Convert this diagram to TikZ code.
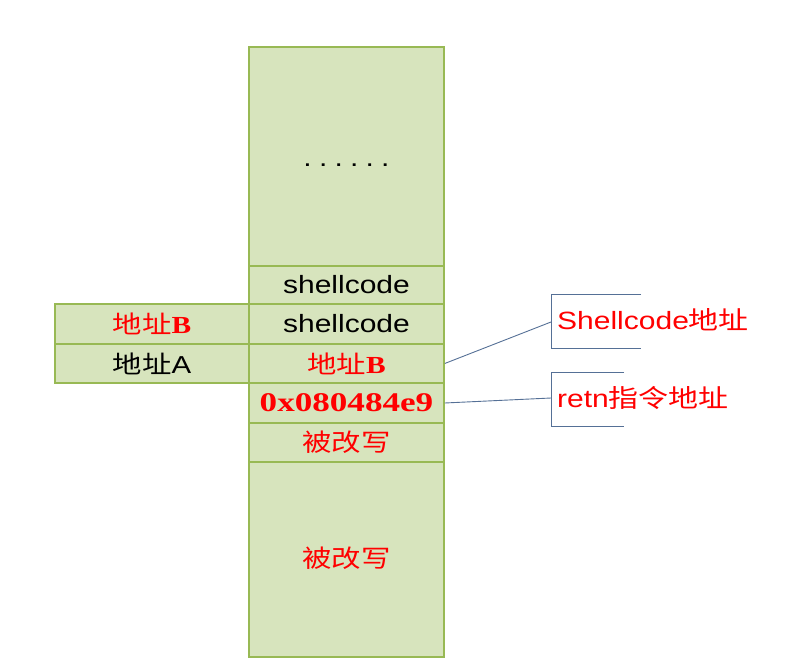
\documentclass[tikz,border=0pt]{standalone}
\usepackage{fontspec}
\usepackage{graphicx}
\setmainfont{Liberation Serif}
\newfontfamily\sansf{Liberation Sans}
\newfontfamily\cjk{Noto Sans CJK SC}
\definecolor{cellfill}{RGB}{215,228,189}
\definecolor{cellline}{RGB}{152,185,84}
\definecolor{callline}{RGB}{85,112,150}
\definecolor{txtred}{RGB}{255,0,0}
\newcommand{\hs}[2][1.2]{\scalebox{#1}[1]{#2}}
\begin{document}
\begin{tikzpicture}[x=1pt,y=-1pt,
  cell/.style={draw=cellline, fill=cellfill, line width=1.5pt, inner sep=0pt, minimum width=195pt},
  lcell/.style={cell, minimum width=194pt},
  callout/.style={draw=callline, line width=0.9pt},
  redt/.style={text=txtred},
  sh/.style={font=\sansf\fontsize{25}{25}\selectfont},
  cj/.style={font=\cjk\fontsize{24.5}{25}\selectfont}]
\useasboundingbox (0,0) rectangle (798,669);
% left column
\node[lcell, minimum height=40pt, redt, cj] (l1) at (152,324) {\hs{地址\rmfamily\bfseries B}};
\node[lcell, minimum height=39pt, cj] (l2) at (152,363.5) {\hs{地址\sansf A}};
% main column
\node[cell, minimum height=219pt, sh] (t0) at (346.5,156.5) {\raisebox{-19pt}{\hs{.\hspace{6pt}.\hspace{6pt}.\hspace{6pt}.\hspace{6pt}.\hspace{6pt}.}}\hspace{18pt}};
\node[cell, minimum height=38pt, sh] (r1) at (346.5,285) {\hs{shellcode}};
\node[cell, minimum height=40pt, sh] (r2) at (346.5,324) {\hs{shellcode}};
\node[cell, minimum height=39pt, redt, cj] (r3) at (346.5,363.5) {\hs{地址\rmfamily\bfseries B}};
\node[cell, minimum height=40pt, redt, font=\rmfamily\bfseries\fontsize{27}{27}\selectfont] (r4) at (346.5,403) {\hs[1.3]{0x080484e9}};
\node[cell, minimum height=39pt, redt, cj] (r5) at (346.5,442.5) {\hs{被改写}};
\node[cell, minimum height=195pt, redt, cj] (b6) at (346.5,559.5) {\raisebox{4pt}{\hs{被改写}}};
% callouts
\coordinate (k1) at (551,322);
\coordinate (k2) at (551,398);
\draw[callout] (r3.east) -- (k1);
\draw[callout] (r4.east) -- (k2);
\draw[callout] (641,294) -- (551,294) -- (551,348) -- (641,348);
\draw[callout] (624,372) -- (551,372) -- (551,426) -- (624,426);
\node[anchor=west, inner sep=0pt, redt, sh] (n1) at (557,320) {\hs{Shellcode\cjk 地址}};
\node[anchor=west, inner sep=0pt, redt, sh] (n2) at (557,398) {\hs{retn\cjk 指令地址}};
\end{tikzpicture}
\end{document}
